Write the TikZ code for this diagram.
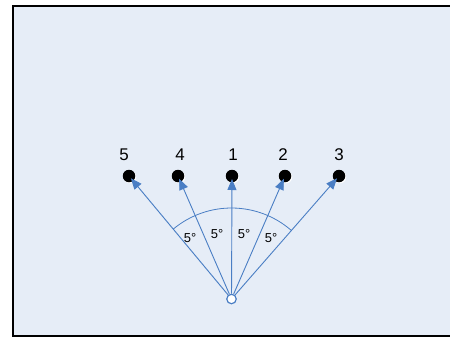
\documentclass[tikz,border=0pt]{standalone}
\usepackage{fontspec}
\setmainfont{Liberation Sans}
\usetikzlibrary{arrows.meta,shadows}
\definecolor{panel}{RGB}{230,237,247}
\definecolor{raycol}{RGB}{74,126,196}

\begin{document}
\begin{tikzpicture}[x=1bp,y=1bp,
      every node/.style={inner sep=0pt},
      spot/.style={circle,fill=black,minimum size=12.5bp,
        drop shadow={shadow xshift=1bp,shadow yshift=-1bp,fill=white,opacity=1}},
      ray/.style={draw=raycol,line width=0.9bp,shorten >=3bp,
        -{Triangle[length=11bp,width=9bp]}},
      num/.style={font=\fontsize{17}{20}\selectfont},
      deg/.style={font=\fontsize{13}{15}\selectfont}]
  \useasboundingbox (0,0) rectangle (450,339);
  \clip (0,0) rectangle (450,339);
  % frame
  \draw[fill=panel,line width=2.3bp] (13,3) rectangle (460,333);
  % source
  \node[circle,draw=raycol,fill=white,line width=1.2bp,minimum size=9.5bp] (src) at (231.5,40) {};
  % angle arc
  \draw[raycol,line width=0.8bp] (src.center) ++(48.8:91) arc[start angle=48.8,end angle=129.8,radius=91];
  % targets
  \foreach \name/\x/\lx in {5/129/124, 4/178/180, 1/232/233, 2/285/283, 3/339/339} {
    \node[spot] (d\name) at (\x,163) {};
    \node[num] (l\name) at (\lx,184) {\name};
    \draw[ray] (src) -- (d\name.center);
  }
  % angles
  \foreach \i/\x/\y in {1/190/101, 2/217/105, 3/244/105, 4/271/101}
    \node[deg] (a\i) at (\x,\y) {5°};
\end{tikzpicture}
\end{document}
